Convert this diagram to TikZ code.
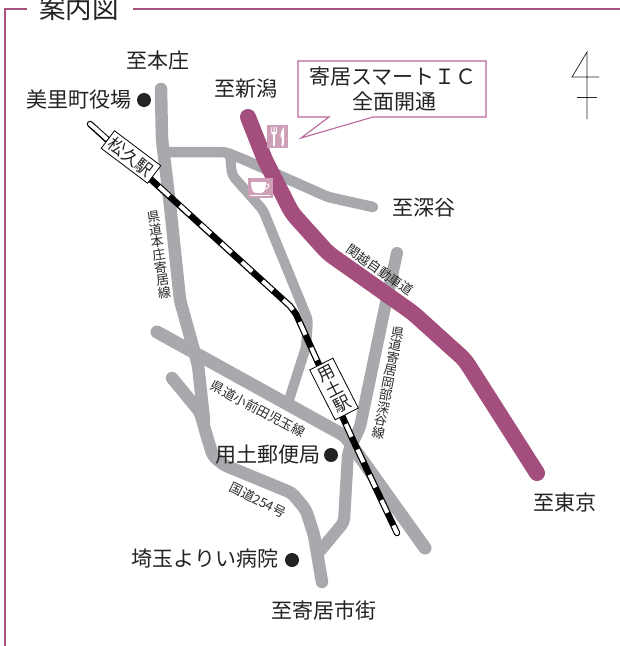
\documentclass[tikz,border=0pt]{standalone}
\usepackage{fontspec}
\setmainfont{Noto Sans CJK JP}
\definecolor{roadgray}{HTML}{A7A9AC}
\definecolor{expwy}{HTML}{A34E7C}
\definecolor{framepink}{HTML}{A9527F}
\definecolor{callpink}{HTML}{B9689A}
\definecolor{iconpink}{HTML}{CF9FB8}
\definecolor{ink}{HTML}{232323}
\definecolor{smallink}{HTML}{2B2B2B}
\tikzset{
  road/.style={draw=roadgray,line width=#1,line cap=round,line join=round,rounded corners=4pt},
  road/.default=12.5pt,
  place/.style={text=ink,inner sep=0pt,font=\fontsize{21}{24}\selectfont},
  small/.style={text=smallink,inner sep=0pt,align=center,font=\fontsize{13}{12.7}\selectfont},
  station/.style={draw=black,line width=0.8pt,fill=white,inner sep=0pt,align=center,text=ink},
  dotmark/.style={circle,fill=ink,draw=none,minimum size=14pt,inner sep=0pt},
  icon/.style={fill=iconpink,draw=none},
}
\begin{document}
\begin{tikzpicture}[x=1pt,y=-1pt]
\useasboundingbox (0,0) rectangle (620,646);
\fill[white] (0,0) rectangle (620,646);
% frame
\draw[framepink,line width=1.8pt] (27,9) -- (5,9) -- (5,646);
\draw[framepink,line width=1.8pt] (133,9) -- (620,9);
\node[text=ink,inner sep=0pt,font=\fontsize{26.5}{30}\selectfont] (title) at (79,8) {案内図};
% roads
\draw[road] (161,89) -- (162,140) -- (170,205) -- (180,300) -- (198,365) -- (204,420);
\draw[road] (172,378) -- (200,412) -- (208,440) -- (213,456) -- (224,465) -- (292,493) -- (306,510) -- (314,535) -- (322,582);
\draw[road=13pt] (157,332) -- (345,436) -- (425,548);
\draw[road=12pt] (397,253) -- (385,307) -- (360,427) -- (348,453) -- (344,522) -- (320,551);
\draw[road=10.5pt] (165,152) -- (225,152) -- (245,160) -- (328,197) -- (373,207);
\draw[road=10pt] (230,155) -- (232,175) -- (263,210) -- (308,320) -- (306,347) -- (288,403);
% expressway
\draw[expwy,line width=16pt,line cap=round,line join=round,rounded corners=6pt]
  (248,117) -- (265,160) -- (292,213) -- (328,253) -- (413,313) -- (465,360) -- (537,473);
% railway
\draw[black,line width=6.5pt,line cap=round,line join=round] (90,124) -- (290,306) -- (296,314) -- (353,440) -- (397,533);
\draw[white,line width=4pt,line cap=round,line join=round] (90,124) -- (97,130);
\draw[white,line width=4pt,line cap=butt,line join=round,dash pattern=on 14pt off 14pt] (97,130) -- (290,306) -- (296,314) -- (353,440) -- (397,533);
\draw[white,line width=4pt,line cap=round] (395,529) -- (397,533);
% stations
\node[station,rotate=-37,minimum width=58pt,minimum height=22pt,font=\fontsize{17}{18}\selectfont] (matsu) at (131,157) {松久駅};
\node[station,rotate=27,minimum width=26pt,minimum height=56pt,font=\fontsize{17}{17.5}\selectfont] (yodo) at (334,389) {用\\土\\駅};
% small labels
\node[small,rotate=8] (l1) at (159,255) {県\\道\\本\\庄\\寄\\居\\線};
\node[small,rotate=-11] (l2) at (388,383) {県\\道\\寄\\居\\岡\\部\\深\\谷\\線};
\node[small,rotate=-35] (l3) at (380,270) {関越自動車道};
\node[small,rotate=-28] (l4) at (258,409) {県道小前田児玉線};
\node[small,rotate=-27] (l5) at (258,500) {国道254号};
% places
\node[place] (p1) at (158,61) {至本庄};
\node[place] (p2) at (246,89) {至新潟};
\node[place] (p3) at (79,100) {美里町役場};
\node[dotmark] (d1) at (144,100) {};
\node[place] (p4) at (424,208) {至深谷};
\node[place] (p5) at (268,455) {用土郵便局};
\node[dotmark] (d2) at (331,455) {};
\node[place] (p6) at (205,559) {埼玉よりい病院};
\node[dotmark] (d3) at (292,560) {};
\node[place] (p7) at (324,610) {至寄居市街};
\node[place] (p8) at (565,503) {至東京};
% callout
\draw[callpink,line width=1.1pt,fill=white,line join=miter] (298,61) -- (486,61) -- (486,117) -- (373,117) -- (301,138) -- (329,117) -- (298,117) -- cycle;
\node[place] (c1) at (393,77) {寄居スマートＩＣ};
\node[place] (c2) at (394,102) {全面開通};
% restaurant icon
\fill[icon] (267,125) rectangle (288,148);
\fill[white] (271.3,127) rectangle (272.2,133) (273.6,127) rectangle (274.6,133) (276,127) rectangle (276.9,133);
\fill[white] (271.3,132) .. controls (271.3,136) and (276.9,136) .. (276.9,132) -- cycle;
\fill[white] (273.2,135) rectangle (275,146);
\fill[white] (284,127) .. controls (280.5,131) and (280,136) .. (281,138) -- (282,138) -- (281.6,146) -- (283.6,146) -- (284.2,138) -- cycle;
% cafe icon
\fill[icon] (248,178) rectangle (273,198);
\fill[white] (251,182) -- (266,182) .. controls (266,189) and (264,193) .. (261,193) -- (256,193) .. controls (253,193) and (251,189) .. (251,182) -- cycle;
\draw[white,line width=0.9pt] (266,184) .. controls (270,183) and (270,188) .. (264.5,189.5);
\fill[white] (250,194.6) rectangle (270,196);
% north mark
\draw[ink,line width=0.75pt,line join=miter] (587,119) -- (587,52) -- (572,77) -- (599,77);
\draw[ink,line width=0.75pt] (577,97) -- (597,97);
\end{tikzpicture}
\end{document}
